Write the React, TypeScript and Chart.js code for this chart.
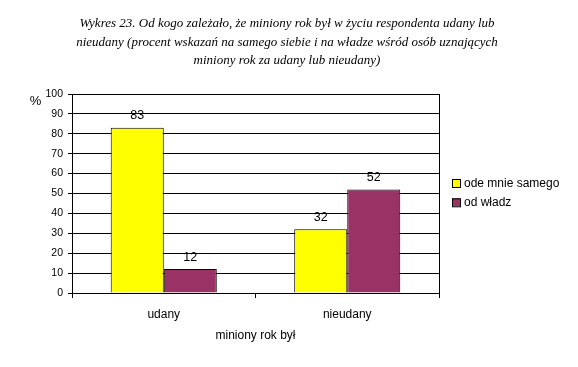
import React, { useEffect, useRef } from "react";
import { Chart, registerables } from "chart.js";

Chart.register(...registerables);

const titleLines = [
  "Wykres 23. Od kogo zależało, że miniony rok był w życiu respondenta udany lub",
  "nieudany (procent wskazań na samego siebie i na władze wśród osób uznających",
  "miniony rok za udany lub nieudany)",
];
const categories = ["udany", "nieudany"];
const seriesNames = ["ode mnie samego", "od władz"];
const odeMnieSamego = [83, 32];
const odWladz = [12, 52];
const seriesColors = ["#FFFF00", "#993366"];
const yAxisLabel = "%";
const xAxisLabel = "miniony rok był";
const yMin = 0;
const yMax = 100;
const yStep = 10;

const SANS = "Arial, 'Liberation Sans', sans-serif";
const SERIF = "'Times New Roman', 'Liberation Serif', serif";

const decorPlugin = {
  id: "decor",
  afterDraw(chart: any) {
    const ctx = chart.ctx;
    const area = chart.chartArea;
    ctx.save();
    // right border of plot area
    ctx.strokeStyle = "#000";
    ctx.lineWidth = 1;
    ctx.beginPath();
    ctx.moveTo(Math.round(area.right) + 0.5, area.top);
    ctx.lineTo(Math.round(area.right) + 0.5, area.bottom);
    ctx.stroke();

    // value labels
    ctx.fillStyle = "#000";
    ctx.font = `12.5px ${SANS}`;
    ctx.textAlign = "center";
    ctx.textBaseline = "middle";
    chart.data.datasets.forEach((ds: any, di: number) => {
      const meta = chart.getDatasetMeta(di);
      meta.data.forEach((el: any, i: number) => {
        ctx.fillText(String(ds.data[i]), el.x, el.y - 12);
      });
    });

    // title
    ctx.font = `italic 13px ${SERIF}`;
    ctx.textAlign = "center";
    titleLines.forEach((line, i) => {
      ctx.fillText(line, 287, 24 + i * 18.5);
    });

    // y axis label
    ctx.font = `13px ${SANS}`;
    ctx.fillText(yAxisLabel, 35.5, 101);

    // x axis title
    ctx.font = `12px ${SANS}`;
    ctx.fillText(xAxisLabel, (area.left + area.right) / 2, 336);

    // legend
    ctx.textAlign = "left";
    seriesNames.forEach((name, i) => {
      const y = 179 + i * 19.3;
      ctx.fillStyle = seriesColors[i];
      ctx.fillRect(452, y, 8, 8);
      ctx.strokeStyle = "#000";
      ctx.strokeRect(452.5, y + 0.5, 8, 8);
      ctx.fillStyle = "#000";
      ctx.fillText(name, 464, y + 4.5);
    });
    ctx.restore();
  },
};

export default function App() {
  const ref = useRef<HTMLCanvasElement>(null);
  useEffect(() => {
    if (!ref.current) return;
    const chart = new Chart(ref.current, {
      type: "bar",
      data: {
        labels: categories,
        datasets: [
          {
            label: seriesNames[0],
            data: odeMnieSamego,
            backgroundColor: seriesColors[0],
            borderColor: "#000",
            borderWidth: 1,
          },
          {
            label: seriesNames[1],
            data: odWladz,
            backgroundColor: seriesColors[1],
            borderColor: "#000",
            borderWidth: 1,
          },
        ],
      },
      options: {
        responsive: false,
        animation: false,
        layout: { padding: { top: 94, right: 139, left: 0, bottom: 0 } },
        datasets: { bar: { categoryPercentage: 0.578, barPercentage: 1 } },
        plugins: {
          legend: { display: false },
          title: { display: false },
          tooltip: { enabled: false },
        },
        scales: {
          x: {
            afterFit: (s: any) => {
              s.height = 74;
            },
            grid: {
              offset: true,
              drawOnChartArea: false,
              drawTicks: true,
              tickLength: 5,
              color: "#000",
            },
            border: { color: "#000" },
            ticks: {
              color: "#000",
              font: { family: SANS, size: 12 },
              padding: 9,
              maxRotation: 0,
            },
          },
          y: {
            min: yMin,
            max: yMax,
            afterFit: (s: any) => {
              s.width = 72;
            },
            grid: { color: "#000", tickLength: 4, drawTicks: true },
            border: { color: "#000" },
            ticks: {
              stepSize: yStep,
              color: "#000",
              font: { family: SANS, size: 10.5 },
              padding: 5,
            },
          },
        },
      },
      plugins: [decorPlugin],
    });
    return () => chart.destroy();
  }, []);
  return (
    <div style={{ position: "fixed", left: 0, top: 0, width: 578, height: 367, background: "#fff" }}>
      <canvas ref={ref} width={578} height={367} style={{ display: "block" }} />
    </div>
  );
}
